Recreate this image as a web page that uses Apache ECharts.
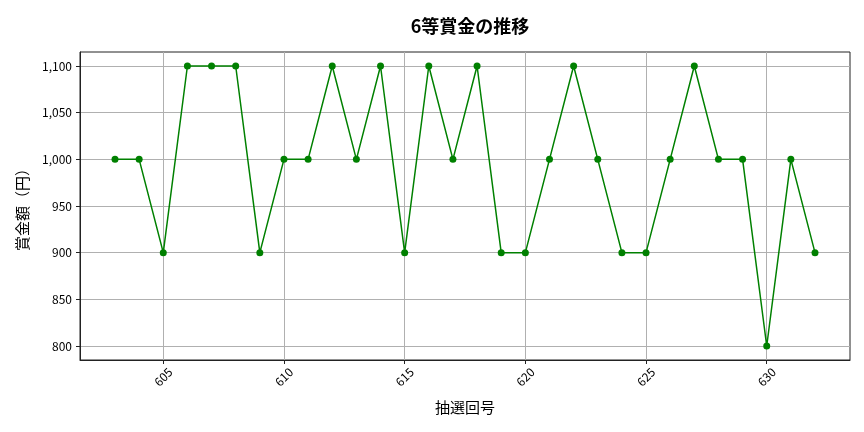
<!DOCTYPE html>
<html>
<head>
<meta charset="utf-8">
<script src="https://cdn.jsdelivr.net/npm/echarts@6/dist/echarts.min.js"></script>
<style>
  html, body { margin: 0; padding: 0; background: #fff; }
  #chart { width: 864px; height: 432px; }
</style>
</head>
<body>
<div id="chart"></div>
<script>
// 抽選回号と6等賞金
const draws  = [603, 604, 605, 606, 607, 608, 609, 610, 611, 612, 613, 614, 615, 616, 617,
                618, 619, 620, 621, 622, 623, 624, 625, 626, 627, 628, 629, 630, 631, 632]
const prizes = [1000, 1000, 900, 1100, 1100, 1100, 900, 1000, 1000, 1100, 1000, 1100, 900, 1100, 1000,
                1100, 900, 900, 1000, 1100, 1000, 900, 900, 1000, 1100, 1000, 1000, 800, 1000, 900]
const xTicks = [605, 610, 615, 620, 625, 630]
const yTicks = [800, 850, 900, 950, 1000, 1050, 1100]

const FONT = '"Noto Sans CJK JP", "Noto Sans", sans-serif'
const chart = echarts.init(document.getElementById('chart'), null, { renderer: 'canvas' })

chart.setOption({
  animation: false,
  title: {
    text: '6等賞金の推移', left: 465, top: 12, textAlign: 'center',
    textStyle: { fontFamily: FONT, fontSize: 18, fontWeight: 'bold', color: '#000' },
  },
  grid: { left: 80, right: 14, top: 52, bottom: 72, containLabel: false, show: true, borderColor: '#222', borderWidth: 1 },
  xAxis: {
    type: 'value', min: 601.55, max: 633.45,
    name: '抽選回号', nameLocation: 'middle', nameGap: 40,
    nameTextStyle: { fontFamily: FONT, fontSize: 15, color: '#000' },
    axisLine: { show: true, lineStyle: { color: '#222' } },
    axisTick: { show: true, customValues: xTicks, length: 4, lineStyle: { color: '#222' } },
    axisLabel: {
      customValues: xTicks, rotate: 45, align: 'center', verticalAlign: 'middle',
      fontFamily: FONT, fontSize: 12, color: '#000', margin: 17,
    },
    splitLine: { show: true, lineStyle: { color: '#b0b0b0', width: 1 } },
  },
  yAxis: {
    type: 'value', min: 785, max: 1115,
    name: '賞金額（円）', nameLocation: 'middle', nameGap: 50, nameRotate: 90,
    nameTextStyle: { fontFamily: FONT, fontSize: 15, color: '#000' },
    axisLine: { show: true, lineStyle: { color: '#222' } },
    axisTick: { show: true, customValues: yTicks, length: 4, lineStyle: { color: '#222' } },
    axisLabel: {
      customValues: yTicks, fontFamily: FONT, fontSize: 12, color: '#000', margin: 8,
      formatter: v => v.toLocaleString('en-US'),
    },
    splitLine: { show: true, lineStyle: { color: '#b0b0b0', width: 1 } },
  },
  series: [{
    type: 'line',
    data: draws.map((d, i) => [d, prizes[i]]),
    symbol: 'circle', symbolSize: 7,
    lineStyle: { color: '#008000', width: 1.5 },
    itemStyle: { color: '#008000' },
  }],
})
</script>
</body>
</html>
